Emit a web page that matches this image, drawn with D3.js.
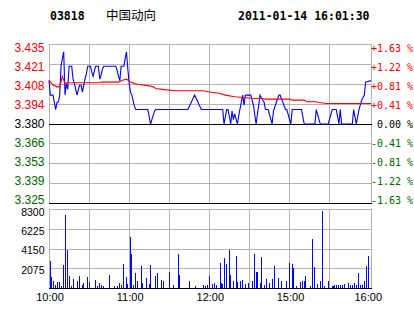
<!DOCTYPE html>
<html>
<head>
<meta charset="utf-8">
<script src="https://cdn.jsdelivr.net/npm/d3@7"></script>
<style>
body { margin: 0; background: #fff; }
text { font-family: "Liberation Sans", Arial, sans-serif; }
</style>
</head>
<body>
<script>
//header texts
var stockCode = "03818",
    stockName = "中国动向",
    stamp = "2011-01-14 16:01:30";

//previous close and tick labels
var prevClose = 3.380,
    priceStep = 0.01375;
var priceTicks = ["3.435", "3.421", "3.408", "3.394", "3.380", "3.366", "3.353", "3.339", "3.325"];
var pctTicks = ["+1.63 %", "+1.22 %", "+0.81 %", "+0.41 %", "\u00a00.00 %", "-0.41 %", "-0.81 %", "-1.22 %", "-1.63 %"];
var volTicks = [8300, 6225, 4150, 2075];
var timeMin = [0, 60, 120, 180, 240];
var timeLabels = ["10:00", "11:00", "12:00", "15:00", "16:00"];

//price line (minute index from 10:00, price)
var priceMin = [0, 1, 3, 4, 5, 6, 7, 8, 9, 10, 11, 12, 13, 14, 15, 17, 18, 19, 20, 21, 22, 23, 24, 25, 26, 27, 28, 29, 31, 32, 33, 34, 35, 37, 38, 39, 40, 41, 50, 51, 52, 53, 54, 56, 57, 58, 59, 60, 61, 62, 63, 64, 65, 74, 75, 76, 77, 78, 79, 80, 104, 109, 114, 130, 131, 133, 134, 136, 137, 138, 139, 141, 142, 145, 146, 147, 151, 153, 155, 158, 159, 161, 162, 164, 167, 168, 172, 173, 177, 178, 181, 182, 189, 191, 199, 200, 203, 209, 212, 215, 217, 218, 219, 227, 228, 230, 232, 234, 236, 237, 241];
var priceVal = [3.41, 3.40, 3.40, 3.395, 3.39, 3.395, 3.395, 3.40, 3.42, 3.425, 3.43, 3.40, 3.408, 3.404, 3.42, 3.42, 3.411, 3.408, 3.404, 3.40, 3.404, 3.407, 3.407, 3.402, 3.407, 3.411, 3.415, 3.42, 3.42, 3.416, 3.413, 3.417, 3.42, 3.42, 3.411, 3.414, 3.418, 3.42, 3.42, 3.417, 3.413, 3.41, 3.42, 3.42, 3.425, 3.43, 3.418, 3.408, 3.402, 3.40, 3.396, 3.392, 3.39, 3.39, 3.385, 3.38, 3.383, 3.386, 3.389, 3.39, 3.39, 3.40, 3.39, 3.39, 3.38, 3.39, 3.39, 3.38, 3.389, 3.383, 3.387, 3.38, 3.386, 3.40, 3.393, 3.40, 3.40, 3.393, 3.38, 3.40, 3.398, 3.395, 3.39, 3.39, 3.38, 3.389, 3.40, 3.40, 3.39, 3.39, 3.38, 3.39, 3.39, 3.38, 3.38, 3.39, 3.38, 3.38, 3.39, 3.39, 3.38, 3.39, 3.38, 3.38, 3.39, 3.38, 3.39, 3.3965, 3.40, 3.409, 3.41];

//average price line
var avgMin = [0, 3, 6, 8, 10, 12, 13, 37, 39, 52, 55, 58, 61, 64, 67, 75, 78, 80, 86, 94, 116, 119, 128, 132, 139, 154, 160, 162, 180, 182, 191, 193, 200, 202, 208, 241];
var avgVal = [3.4103, 3.4069, 3.4057, 3.4057, 3.413, 3.408, 3.4085, 3.4085, 3.409, 3.409, 3.4103, 3.411, 3.409, 3.408, 3.4073, 3.4064, 3.4057, 3.4045, 3.4038, 3.403, 3.403, 3.4023, 3.4011, 3.400, 3.3988, 3.3976, 3.3976, 3.3972, 3.3972, 3.3965, 3.3965, 3.3954, 3.3954, 3.3949, 3.3942, 3.3942];

//volume bars
var volMin = [1, 2, 3, 5, 6, 8, 9, 11, 12, 14, 15, 17, 18, 21, 23, 25, 26, 29, 30, 35, 36, 38, 39, 41, 45, 49, 51, 53, 54, 56, 58, 59, 61, 62, 63, 65, 66, 69, 70, 73, 75, 76, 80, 81, 84, 86, 90, 93, 97, 98, 105, 110, 116, 117, 119, 120,
    122, 124, 125, 128, 129, 130, 131, 133, 135, 136, 138, 140, 141, 143, 145, 147, 149, 152, 154, 155, 156, 158, 159, 161, 163, 165, 167, 169, 172, 174, 178, 180, 182, 183, 185, 188, 190, 191, 192, 196, 197, 199, 201, 203, 205, 206, 209, 212, 213, 214, 215, 217, 218, 220, 221, 224, 226, 227, 229, 230, 232, 233, 235, 236, 238, 239];
var volVal = [2870, 1190, 840, 350, 660, 660, 300, 2450, 7700, 4020, 1290, 300, 1050, 770, 1290, 350, 560, 1190, 660, 875, 300, 560, 350, 300, 1400, 260, 260, 560, 350, 2560, 1230, 470, 5390, 3610, 350, 1610, 770, 2350, 560, 1090, 470, 2450, 1290, 1610, 875, 770, 1720, 350, 3610, 1400, 770, 250, 350, 250, 420, 1290,
    470, 560, 350, 2650, 560, 470, 3190, 2560, 4020, 1400, 770, 3400, 660, 770, 875, 470, 560, 770, 3610, 1720, 1720, 560, 3330, 350, 980, 560, 980, 2350, 1090, 770, 770, 2650, 2560, 2150, 250, 660, 770, 770, 1290, 250, 5180, 2240, 470, 770, 8140, 250, 770, 250, 250, 350, 420, 350, 350, 350, 470, 560, 350, 350, 560, 350, 1610, 350, 350, 770, 2350, 3400];

var width = 414,
    height = 314,
    gridColor = "#b4b4b4";

var svg = d3.select("body")
    .append("svg")
    .attr("width", width)
    .attr("height", height);

//scales
var x = d3.scaleLinear().domain([0, 241]).range([49, 371]);
var y = d3.scaleLinear().domain([3.325, 3.435]).range([203.5, 44.5]);
var vy = d3.scaleLinear().domain([0, 8300]).range([288.5, 209.5]);
var labelY = d3.scaleLinear().domain([0, 8]).range([51.7, 204.2]);
var volLabelY = d3.scaleLinear().domain([0, 3]).range([215.7, 273.7]);

function crisp(v) { return Math.floor(v) + 0.5; }

var gridX = d3.range(0, 211, 30).map(function(m){ return crisp(x(m)); }).concat([371.5]);
var levels = d3.range(-4, 5).map(function(k){ return prevClose + k * priceStep; });
var panels = [[44.5, 203.5], [209.5, 288.5]];

//grid drawn as filled 1px rects so it is always crisp
var grid = svg.append("g").attr("class", "grid").attr("fill", gridColor).attr("shape-rendering", "crispEdges");

panels.forEach(function(pan, p){
    grid.selectAll(".xg" + p)
        .data(gridX)
        .enter()
        .append("rect")
        .attr("class", "xg" + p)
        .attr("x", function(d){ return d - 0.5; })
        .attr("y", pan[0] - 0.5)
        .attr("width", 1)
        .attr("height", pan[1] - pan[0] + 1);
});

grid.selectAll(".pg")
    .data(levels)
    .enter()
    .append("rect")
    .attr("class", "pg")
    .attr("x", 49)
    .attr("y", function(d){ return Math.floor(y(d)); })
    .attr("width", 323)
    .attr("height", 1);

grid.selectAll(".vg")
    .data(volTicks)
    .enter()
    .append("rect")
    .attr("class", "vg")
    .attr("x", 49)
    .attr("y", function(d){ return Math.floor(vy(d)); })
    .attr("width", 323)
    .attr("height", 1);

//black base lines: previous close, price bottom, volume bottom
svg.selectAll(".base")
    .data([y(prevClose), y(3.325), vy(0)])
    .enter()
    .append("rect")
    .attr("class", "base")
    .attr("x", 49)
    .attr("y", function(d){ return Math.floor(d); })
    .attr("width", 323)
    .attr("height", 1)
    .attr("fill", "#000")
    .attr("shape-rendering", "crispEdges");

//volume bars
var vols = volMin.map(function(m, i){ return [m, volVal[i]]; });
svg.selectAll(".vol")
    .data(vols)
    .enter()
    .append("rect")
    .attr("class", "vol")
    .attr("x", function(d){ return Math.floor(x(d[0])); })
    .attr("width", 1)
    .attr("y", function(d){ return Math.round(vy(d[1])); })
    .attr("height", function(d){ return 288 - Math.round(vy(d[1])); })
    .attr("fill", "#0000ff")
    .attr("shape-rendering", "crispEdges");

//price and average lines
var line = d3.line()
    .x(function(d){ return x(d[0]); })
    .y(function(d){ return y(d[1]); });

svg.append("path")
    .datum(priceMin.map(function(m, i){ return [m, priceVal[i]]; }))
    .attr("d", line)
    .attr("fill", "none")
    .attr("stroke", "#0000ff")
    .attr("stroke-width", 1.1);

svg.append("path")
    .datum(avgMin.map(function(m, i){ return [m, avgVal[i]]; }))
    .attr("d", line)
    .attr("fill", "none")
    .attr("stroke", "#ff0000")
    .attr("stroke-width", 1.1);

//tick label colours
function tickColor(i){
    return i < 4 ? "#ff0000" : (i == 4 ? "#000" : "#006600");
}

svg.selectAll(".plab")
    .data(priceTicks)
    .enter()
    .append("text")
    .attr("class", "plab")
    .attr("x", 44.5)
    .attr("y", function(d, i){ return labelY(i); })
    .attr("text-anchor", "end")
    .attr("font-size", 12)
    .attr("fill", function(d, i){ return tickColor(i); })
    .text(function(d){ return d; });

svg.selectAll(".rlab")
    .data(pctTicks)
    .enter()
    .append("text")
    .attr("class", "rlab")
    .attr("x", 371)
    .attr("y", function(d, i){ return labelY(i); })
    .style("font-family", "'DejaVu Sans Mono', monospace")
    .attr("font-size", 10)
    .attr("fill", function(d, i){ return tickColor(i); })
    .text(function(d){ return d; });

svg.selectAll(".vlab")
    .data(volTicks)
    .enter()
    .append("text")
    .attr("class", "vlab")
    .attr("x", 44.5)
    .attr("y", function(d, i){ return volLabelY(i); })
    .attr("text-anchor", "end")
    .attr("font-size", 10.5)
    .text(function(d){ return d; });

svg.selectAll(".tlab")
    .data(timeLabels)
    .enter()
    .append("text")
    .attr("class", "tlab")
    .attr("x", function(d, i){ return i == timeLabels.length - 1 ? 382 : x(timeMin[i]) + 1; })
    .attr("y", 301)
    .attr("text-anchor", function(d, i){ return i == timeLabels.length - 1 ? "end" : "middle"; })
    .attr("font-size", 11)
    .text(function(d){ return d; });

//header
svg.append("text")
    .attr("x", 50).attr("y", 19.5)
    .style("font-family", "'DejaVu Sans Mono', monospace")
    .attr("font-weight", "bold")
    .attr("font-size", 11.5)
    .text(stockCode);

svg.append("text")
    .attr("x", 106).attr("y", 19.8)
    .style("font-family", "'Noto Sans CJK SC', sans-serif")
    .attr("font-size", 12.5)
    .text(stockName);

svg.append("text")
    .attr("x", 238).attr("y", 19.5)
    .style("font-family", "'DejaVu Sans Mono', monospace")
    .attr("font-weight", "bold")
    .attr("font-size", 11.5)
    .text(stamp);
</script>
</body>
</html>
